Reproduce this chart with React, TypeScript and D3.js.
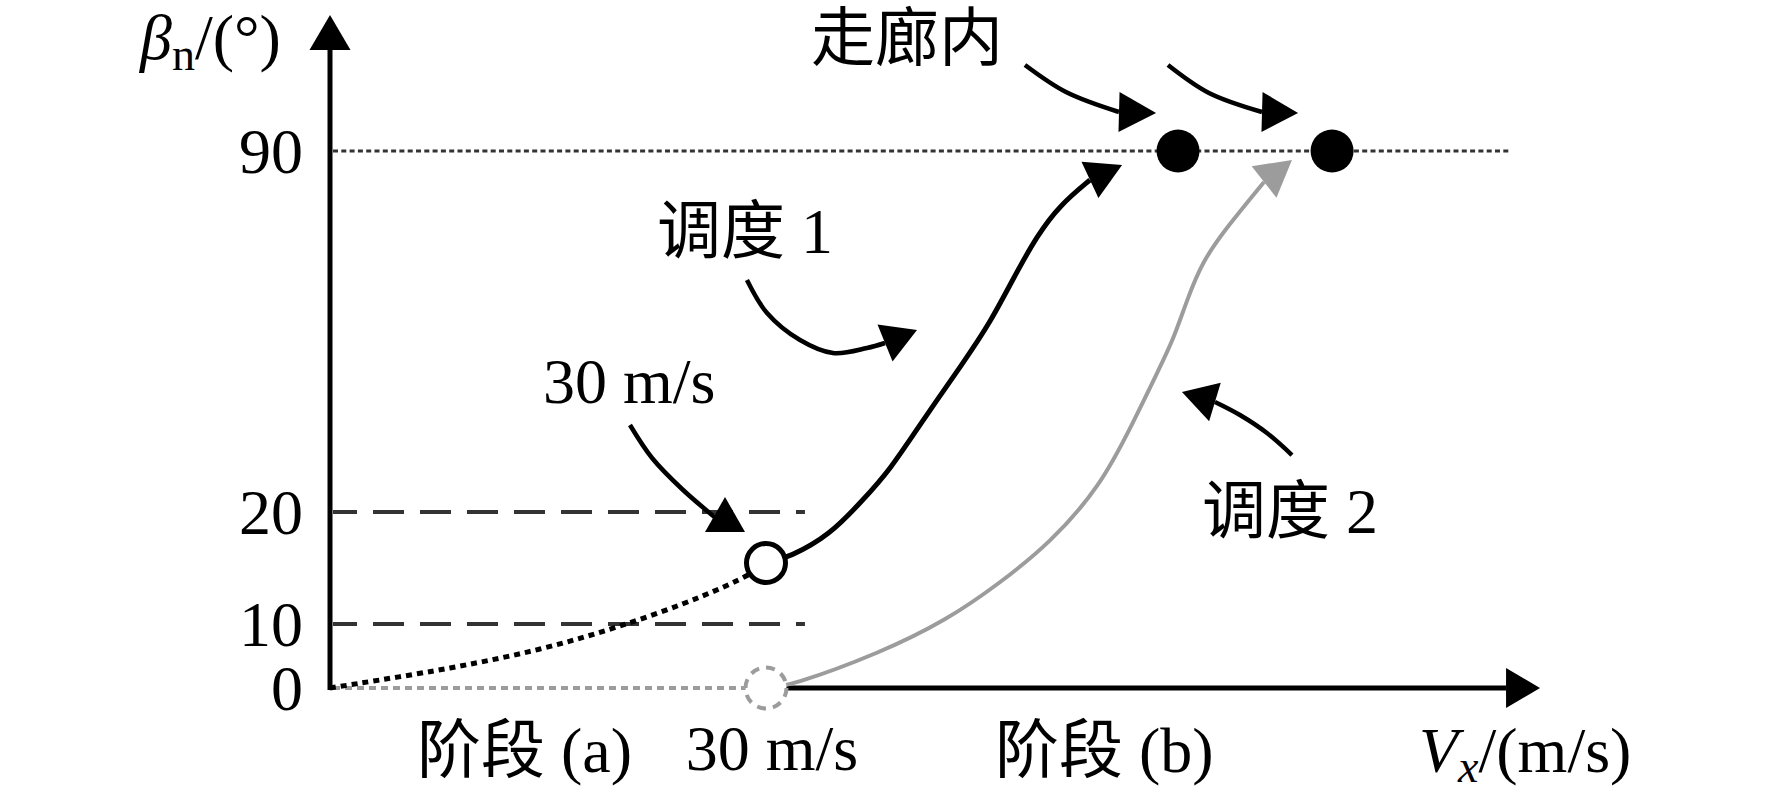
import React from 'react';
import * as d3 from 'd3';

type P = [number, number];

// ---------- data (Vx in m/s, beta_n in degrees) ----------
const yTicks: number[] = [0, 10, 20, 90];
const guideLevels: number[] = [10, 20];
const corridorLevel = 90;
const transitionSpeed = 30;
const guideEndSpeed = 32.68;
const corridorLineEnd = 81.19;
const axisXEnd: [number, number] = [80.92, 83.26]; // arrow base, tip
const axisYEnd: [number, number] = [109.59, 116.37];

// stage (a): dotted growth up to 30 m/s
const stageA: P[] = [[0, 0], [8.26, 3.13], [14.45, 6.09], [19.95, 9.69], [25.46, 12.41], [28.76, 14.38], [30, 15.45]];
// schedule 1 (black)
const schedule1: P[] = [[30, 15.45], [31.65, 15.98], [34.4, 17.95], [36.67, 22.33], [38.53, 28.14], [40.8, 37.84], [43.56, 48.89], [45.41, 56.65], [47.0, 65.2], [48.65, 73.6], [50.23, 79.53], [52.29, 84.38], [54.5, 87.29]];
// schedule 2 (grey)
const schedule2: P[] = [[30, 0], [31.65, 0.31], [37.85, 5.47], [42.46, 10.36], [46.1, 13.66], [49.54, 17.23], [52.98, 24.85], [55.25, 37.26], [57.11, 48.12], [58.01, 53.35], [58.97, 61.11], [60.0, 68.48], [61.72, 75.26], [64.27, 83.99], [66.19, 88.26]];
// in-corridor points
const corridorPoints: number[] = [58.35, 68.95];
const startBeta1 = 15.45;
const startBeta2 = 0;

// annotation arrows (path points, head base, head tip)
const annCorridor1: P[] = [[47.82, 106.68], [50.64, 101.44], [54.29, 97.56]];
const annCorridor1Tip: P = [56.84, 97.37];
const annCorridor2: P[] = [[57.66, 106.68], [60.48, 101.25], [64.13, 97.56]];
const annCorridor2Tip: P = [66.61, 97.37];
const annSched1: P[] = [[28.69, 64.99], [30.07, 58.59], [32.34, 53.35], [34.61, 50.83], [36.95, 51.8], [38.19, 52.77]];
const annSched1Tip: P = [40.39, 55.29];
const annSpeed: P[] = [[20.64, 36.87], [22.16, 30.47], [24.22, 24.46], [26.7, 19.29]];
const annSpeedBase: P = [27.18, 18.21];
const annSpeedTip: P = [27.18, 22.91];
const annSched2: P[] = [[66.19, 31.05], [64.47, 35.32], [62.61, 38.81], [60.89, 41.33]];
const annSched2Tip: P = [58.62, 43.27];

// ---------- layout ----------
const W = 1772, H = 804;
const xS = d3.scaleLinear().domain([0, 30]).range([330, 766]);
const yS = d3.scaleLinear().domain([0, 10, 20, 90]).range([688, 624, 512, 151]);

const FONT = "'Liberation Serif', 'Noto Sans CJK SC', serif";
const FS = 64;
const GREY = '#9c9c9c';

const smooth = d3.line<P>().x(d => xS(d[0])).y(d => yS(d[1])).curve(d3.curveCatmullRom.alpha(0.5));
const soft = d3.line<P>().x(d => xS(d[0])).y(d => yS(d[1])).curve(d3.curveBasis);

function head(base: P, tip: P, hw = 20): string {
  const bx = xS(base[0]), by = yS(base[1]);
  const tx = xS(tip[0]), ty = yS(tip[1]);
  const dx = tx - bx, dy = ty - by;
  const L = Math.hypot(dx, dy);
  const nx = -dy / L, ny = dx / L;
  return `M${tx},${ty}L${bx + nx * hw},${by + ny * hw}L${bx - nx * hw},${by - ny * hw}Z`;
}

export default function App() {
  const x0 = xS(0), y0 = yS(0);
  const rOpen = 19.5;
  return (
    <svg width={W} height={H} style={{ position: 'absolute', left: 0, top: 0, display: 'block', background: '#fff' }}>
      <rect x={0} y={0} width={W} height={H} fill="#fff" />
      {/* guide lines */}
      {guideLevels.map(l => (
        <line key={l} x1={x0 + 3} x2={xS(guideEndSpeed)} y1={yS(l)} y2={yS(l)}
          stroke="#333" strokeWidth={4} strokeDasharray="31,16" strokeDashoffset={7} />
      ))}
      <line x1={x0 + 3} x2={xS(corridorLineEnd)} y1={yS(corridorLevel)} y2={yS(corridorLevel)}
        stroke="#333" strokeWidth={3} strokeDasharray="5,3.3" />
      {/* grey dashed baseline of stage (a) */}
      <line x1={x0 + 3} x2={xS(transitionSpeed)} y1={y0} y2={y0} stroke={GREY} strokeWidth={4} strokeDasharray="7,5" />
      {/* axes */}
      <line x1={x0} x2={x0} y1={y0 + 2} y2={yS(axisYEnd[0])} stroke="#000" strokeWidth={5} />
      <path d={head([0, axisYEnd[0]], [0, axisYEnd[1]], 20.5)} fill="#000" />
      <line x1={xS(transitionSpeed) + 20} x2={xS(axisXEnd[0])} y1={y0} y2={y0} stroke="#000" strokeWidth={5} />
      <path d={head([axisXEnd[0], 0], [axisXEnd[1], 0], 20)} fill="#000" />

      {/* stage (a) dotted curve */}
      <path d={smooth(stageA) || ''} fill="none" stroke="#000" strokeWidth={5} strokeDasharray="6,5" />
      {/* schedule 2 grey curve */}
      <path d={soft(schedule2.slice(0, -1)) || ''} fill="none" stroke={GREY} strokeWidth={4} />
      <path d={head(schedule2[schedule2.length - 2], schedule2[schedule2.length - 1])} fill={GREY} />
      {/* schedule 1 black curve */}
      <path d={soft(schedule1.slice(0, -1)) || ''} fill="none" stroke="#000" strokeWidth={5} />
      <path d={head(schedule1[schedule1.length - 2], schedule1[schedule1.length - 1])} fill="#000" />

      {/* transition circles */}
      <circle cx={xS(transitionSpeed)} cy={yS(startBeta2)} r={20.5} fill="#fff" stroke={GREY} strokeWidth={4} strokeDasharray="9,7" />
      <circle cx={xS(transitionSpeed)} cy={yS(startBeta1)} r={rOpen} fill="#fff" stroke="#000" strokeWidth={5} />
      {corridorPoints.map(v => (
        <circle key={v} cx={xS(v)} cy={yS(corridorLevel)} r={21.5} fill="#000" />
      ))}

      {/* annotation arrows */}
      {[
        { pts: annCorridor1, base: annCorridor1[annCorridor1.length - 1], tip: annCorridor1Tip },
        { pts: annCorridor2, base: annCorridor2[annCorridor2.length - 1], tip: annCorridor2Tip },
        { pts: annSched1, base: annSched1[annSched1.length - 1], tip: annSched1Tip },
        { pts: annSpeed, base: annSpeedBase, tip: annSpeedTip },
        { pts: annSched2, base: annSched2[annSched2.length - 1], tip: annSched2Tip },
      ].map((a, i) => (
        <g key={i}>
          <path d={smooth(a.pts) || ''} fill="none" stroke="#000" strokeWidth={4.5} />
          <path d={head(a.base, a.tip, 20)} fill="#000" />
        </g>
      ))}

      {/* tick labels */}
      <g fontFamily={FONT} fontSize={FS} fill="#000">
        {yTicks.map(t => (
          <text key={t} x={x0 - 27} y={yS(t) + 22} textAnchor="end">{t}</text>
        ))}
        {/* axis titles */}
        <text x={140} y={59}>
          <tspan fontStyle="italic">β</tspan>
          <tspan fontSize={46} dy={11}>n</tspan>
          <tspan dy={-11}>/(°)</tspan>
        </text>
        <text x={1419} y={772}>
          <tspan fontStyle="italic">V</tspan>
          <tspan fontStyle="italic" fontSize={46} dy={10}>x</tspan>
          <tspan dy={-10}>/(m/s)</tspan>
        </text>
        {/* stage labels */}
        <text x={417} y={772}>阶段 (a)</text>
        <text x={xS(transitionSpeed) + 6} y={770} textAnchor="middle">{`${transitionSpeed} m/s`}</text>
        <text x={995} y={772}>阶段 (b)</text>
        {/* annotations */}
        <text x={811} y={60}>走廊内</text>
        <text x={657} y={253}>调度 1</text>
        <text x={543} y={403}>{`${transitionSpeed} m/s`}</text>
        <text x={1202} y={533}>调度 2</text>
      </g>
    </svg>
  );
}
